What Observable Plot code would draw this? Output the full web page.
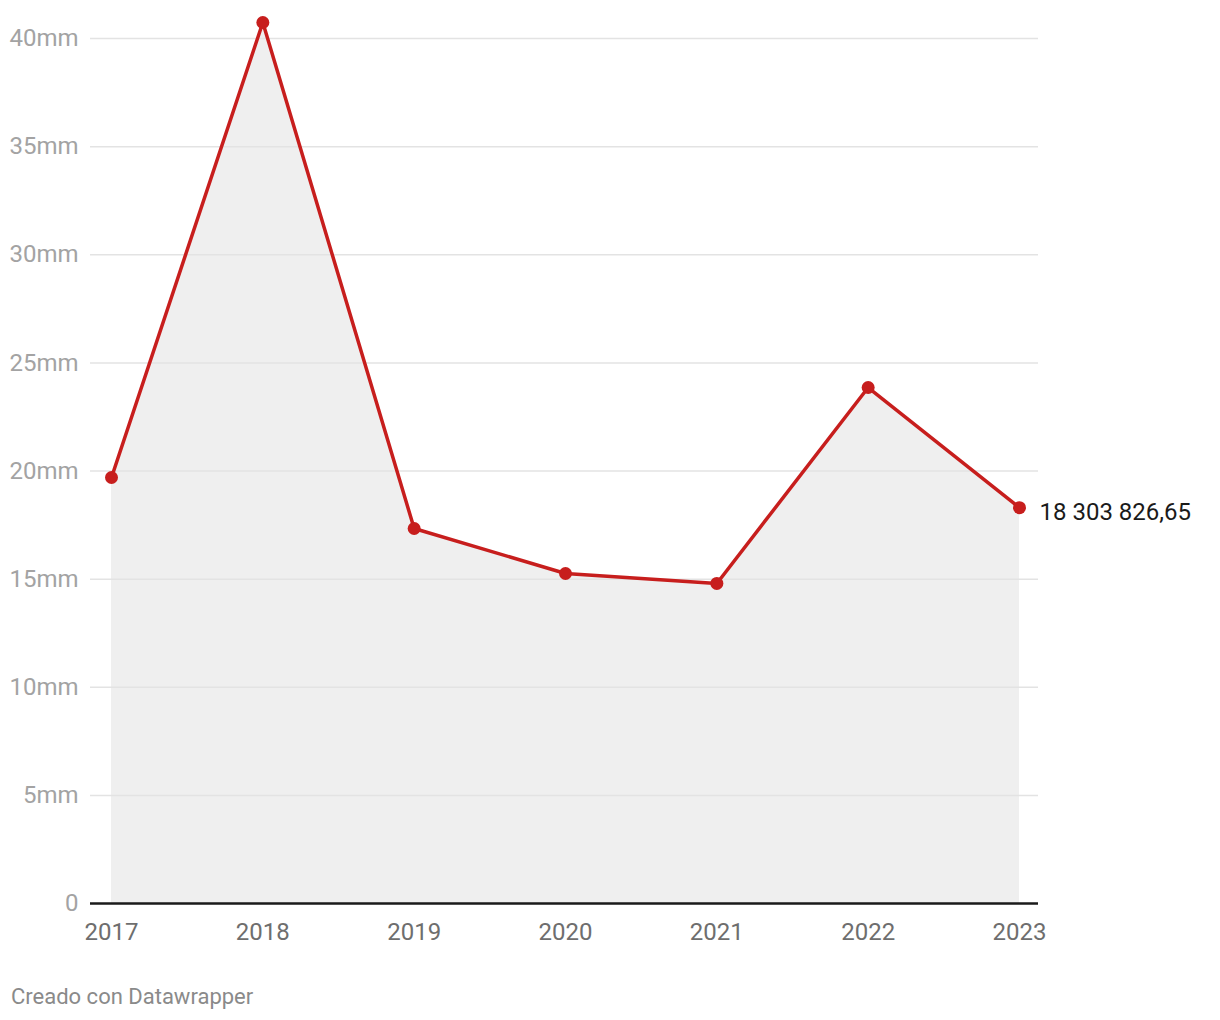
<!DOCTYPE html>
<html>
<head>
<meta charset="utf-8">
<script src="https://cdn.jsdelivr.net/npm/d3@7"></script>
<script src="https://cdn.jsdelivr.net/npm/@observablehq/plot@0.6"></script>
<style>
  html, body { margin: 0; padding: 0; background: #fff; }
  body { width: 1220px; height: 1020px; font-family: Roboto, "Noto Sans", sans-serif; position: relative; }
  #chart { position: absolute; left: 0; top: 0; }
  #footer { position: absolute; left: 11px; top: 986px; font-size: 22px; line-height: 1; color: #8a8a8a; font-family: Roboto, sans-serif; }
</style>
</head>
<body>
<div id="chart"></div>
<div id="footer">Creado con Datawrapper</div>
<script>
const years = [2017, 2018, 2019, 2020, 2021, 2022, 2023];
const values = [19.70, 40.74, 17.34, 15.26, 14.80, 23.86, 18.30382665]; // millions
const yTicks = [0, 5, 10, 15, 20, 25, 30, 35, 40];
const endLabel = ["18 303 826,65"];

const data = years.map((y, i) => ({year: y, value: values[i]}));
const last = [data[data.length - 1]];

const chart = Plot.plot({
  width: 1220,
  height: 950,
  marginLeft: 111,
  marginRight: 201,
  marginTop: 38,
  marginBottom: 47,
  style: {fontFamily: "Roboto, sans-serif", background: "#fff", overflow: "visible"},
  x: {domain: [2017, 2023], type: "linear"},
  y: {domain: [0, 40]},
  marks: [
    Plot.areaY(data, {x: "year", y: "value", fill: "#efefef"}),
    Plot.ruleY(yTicks.filter(d => d > 0), {stroke: "#e3e3e3", strokeWidth: 1.5, insetLeft: -21, insetRight: -19}),
    Plot.ruleY([0], {stroke: "#1a1a1a", strokeWidth: 2.5, insetLeft: -21, insetRight: -19}),
    Plot.axisY({ticks: yTicks, tickSize: 0, tickPadding: 33, fontSize: 24, color: "#a3a3a3",
      tickFormat: d => d === 0 ? "0" : d + "mm", label: null}),
    Plot.axisX({ticks: years, tickSize: 0, tickPadding: 19, fontSize: 24, color: "#6e6e6e",
      tickFormat: d => String(d), label: null}),
    Plot.lineY(data, {x: "year", y: "value", stroke: "#c71e1d", strokeWidth: 3.5}),
    Plot.dot(data, {x: "year", y: "value", fill: "#c71e1d", r: 6.5}),
    Plot.text(last, {x: "year", y: "value", text: () => endLabel[0], textAnchor: "start", dx: 20, dy: 5,
      fontSize: 24, fill: "#1a1a1a"})
  ]
});
document.getElementById("chart").appendChild(chart);
</script>
</body>
</html>
